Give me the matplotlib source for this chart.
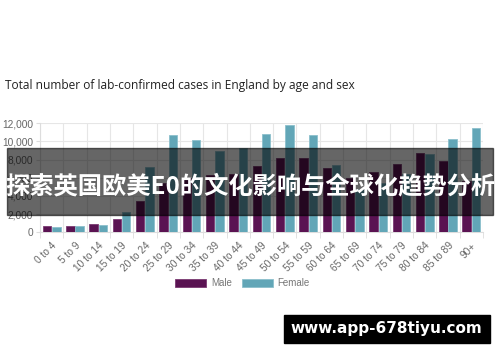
import matplotlib
matplotlib.use('Agg')
import matplotlib.pyplot as plt
import numpy as np

# Age groups and case counts
ages = ['0 to 4', '5 to 9', '10 to 14', '15 to 19', '20 to 24', '25 to 29',
        '30 to 34', '35 to 39', '40 to 44', '45 to 49', '50 to 54', '55 to 59',
        '60 to 64', '65 to 69', '70 to 74', '75 to 79', '80 to 84', '85 to 89', '90+']
male = [680, 740, 890, 1440, 3430, 5400, 6000, 6300, 6400, 7280, 8160, 8180,
        7110, 6000, 6600, 7550, 8750, 7800, 5600]
female = [570, 700, 820, 2230, 7180, 10710, 10100, 8890, 9290, 10820, 11830, 10710,
          7360, 4800, 5400, 6400, 8640, 10200, 11470]
yticks = [0, 2000, 4000, 6000, 8000, 10000, 12000]

title = 'Total number of lab-confirmed cases in England by age and sex'
banner = '探索英国欧美E0的文化影响与全球化趋势分析'
site = 'www.app-678tiyu.com'

male_col = '#5a1352'
female_col = '#62a6b7'

fig = plt.figure(figsize=(5, 3.62), dpi=100)
ax = fig.add_axes([0.08, 0.358, 0.886, 0.302])

x = np.arange(len(ages))
ax.bar(x - 0.2, male, width=0.36, color=male_col, edgecolor='#7a3a72',
       linewidth=0.6, label='Male', zorder=3)
ax.bar(x + 0.2, female, width=0.36, color=female_col, edgecolor='#8cc0cc',
       linewidth=0.6, label='Female', zorder=3)

ax.set_xlim(-0.5, len(ages) - 0.5)
ax.set_ylim(0, 12000)
ax.set_yticks(yticks)
ax.set_yticklabels(['{:,}'.format(v) for v in yticks])
ax.set_xticks(x)
ax.set_xticklabels(ages, rotation=45, ha='right', rotation_mode='anchor')
ax.set_xticks(np.arange(len(ages) + 1) - 0.5, minor=True)

ax.tick_params(axis='x', which='major', length=0, pad=6, labelsize=7.3,
               labelcolor='#666666')
ax.tick_params(axis='x', which='minor', length=4, color='#dddddd')
ax.tick_params(axis='y', length=3, color='#dddddd', labelsize=7.3,
               labelcolor='#666666', pad=2)
for lab in ax.get_xticklabels() + ax.get_yticklabels():
    lab.set_family('Liberation Sans')

ax.grid(True, which='minor', axis='x', color='#e6e6e6', linewidth=0.8, zorder=0)
ax.grid(True, which='major', axis='y', color='#e6e6e6', linewidth=0.8, zorder=0)
for s in ['top', 'right']:
    ax.spines[s].set_visible(False)
ax.spines['left'].set_color('#dddddd')
ax.spines['bottom'].set_color('#dddddd')

leg = fig.legend(loc='center', bbox_to_anchor=(0.485, 0.218), ncol=2, frameon=False,
                 handlelength=3.2, handleheight=0.9, columnspacing=1.0,
                 handletextpad=0.5, prop={'family': 'Liberation Sans', 'size': 7})
for t in leg.get_texts():
    t.set_color('#777777')

fig.text(0.01, 0.755, title, fontsize=8.6, family='Open Sans', color='#222222')

# dark banner with headline over the chart
fig.patches.append(plt.Rectangle((0.014, 1 - 215 / 362), 0.972, 67 / 362,
                                 transform=fig.transFigure, color='black',
                                 alpha=0.6, zorder=5))
fig.text(0.5, 1 - 186 / 362, banner, fontsize=17.5, fontweight='heavy',
         family=['Noto Sans CJK SC', 'DejaVu Sans'], color='white',
         ha='center', va='center', zorder=6)

# black box with site address
fig.patches.append(plt.Rectangle((284 / 500, 1 - 343 / 362), 206 / 500, 28 / 362,
                                 transform=fig.transFigure, color='black', zorder=5))
fig.text(386 / 500, 1 - 329 / 362, site, fontsize=11, fontweight='bold',
         family='DejaVu Sans', color='white', ha='center', va='center', zorder=6)

fig.savefig('out.png', dpi=100)
